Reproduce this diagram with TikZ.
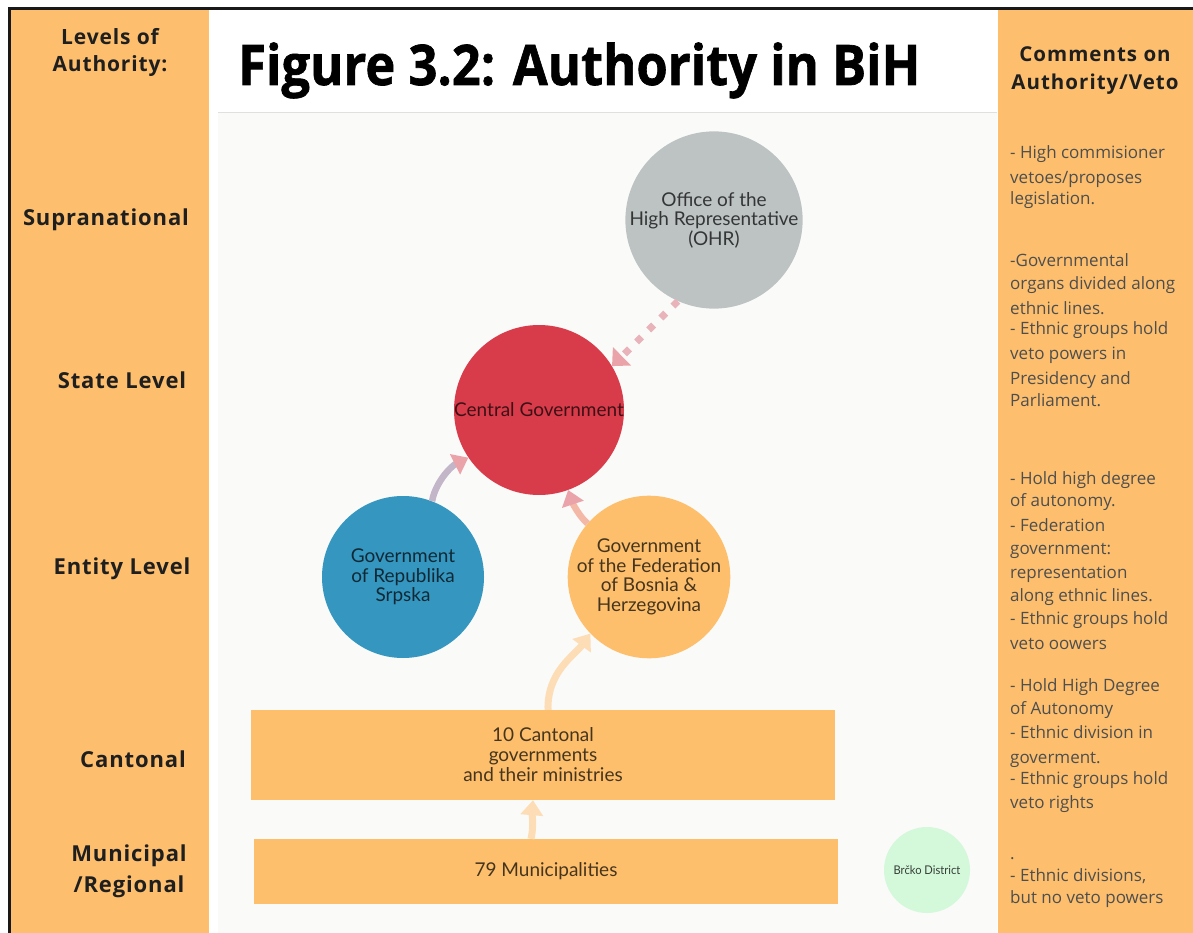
\documentclass[tikz,border=0pt]{standalone}
\usepackage{fontspec}
\setmainfont{Open Sans}
\newfontfamily\diagfont{Lato}
\usetikzlibrary{arrows.meta,shapes.geometric}

\definecolor{band}{HTML}{FDBF6D}
\definecolor{panelbg}{HTML}{FAFAF9}
\definecolor{ohrgray}{HTML}{BDC3C3}
\definecolor{centralred}{HTML}{D83C4A}
\definecolor{srpskablue}{HTML}{3596C0}
\definecolor{fedorange}{HTML}{FDBF6C}
\definecolor{brckogreen}{HTML}{D4F8DA}
\definecolor{arrowpink}{HTML}{EBA3AA}
\definecolor{dotpink}{HTML}{E8B3B9}
\definecolor{arrowmauve}{HTML}{C3B6C8}
\definecolor{arrowpeach}{HTML}{F3B8A6}
\definecolor{arrowlight}{HTML}{FDDDB6}
\definecolor{commentgray}{HTML}{4E4E4E}

\tikzset{
  lvl/.style={font=\fontsize{22}{31}\selectfont\bfseries\addfontfeature{LetterSpace=4},
    text=black!88, align=center, inner sep=0pt},
  cmthead/.style={font=\fontsize{20.5}{28}\selectfont\bfseries\addfontfeature{LetterSpace=5},
    text=black!88, align=center, inner sep=0pt},
  cmt/.style={font=\fontsize{17}{20}\selectfont, text=commentgray, anchor=mid west, inner sep=0pt},
  orgcircle/.style={circle, inner sep=0pt, align=center, text=black, text opacity=0.72,
    font=\diagfont\fontsize{19}{19.5}\selectfont},
  orgbox/.style={rectangle, inner sep=0pt, align=center, fill=fedorange, text=black, text opacity=0.72,
    font=\diagfont\fontsize{19}{20}\selectfont},
  linkarrow/.style={line width=6.5pt, -{Triangle[length=15pt,width=22pt,color=#1]}},
  linkarrow/.default=arrowpink
}

\begin{document}
\begin{tikzpicture}[x=1pt,y=-1pt]
\useasboundingbox (0,0) rectangle (1193,933);
\fill[white] (0,0) rectangle (1193,933);

% column bands, title strip and drawing panel
\fill[band] (10,10) rectangle (209,933);
\fill[white] (209,10) rectangle (997,933);
\fill[panelbg] (218,113) rectangle (997,933);
\draw[black!12, line width=1pt] (218,113) -- (997,113);
\fill[band] (998,10) rectangle (1193,933);
\draw[white, line width=1.5pt] (997.5,10) -- (997.5,933);

% outer frame
\draw[black!90, line width=3pt] (9,933) -- (9,9) -- (1193,9);

% title
\node[anchor=base west, inner sep=0pt,
  font=\fontsize{56}{60}\selectfont\bfseries\addfontfeature{FakeBold=1.2}] (title) at (238,85)
  {\scalebox{0.905}[1]{Figure 3.2: Authority in BiH}};

% level labels
\node[lvl, font=\fontsize{21}{27}\selectfont\bfseries\addfontfeature{LetterSpace=4}] (lvlhead) at (110,52)
  {Levels of\\Authority:};
\node[lvl] (supra) at (106,220) {Supranational};
\node[lvl] (state) at (122,380) {State Level};
\node[lvl] (entity) at (122,569) {Entity Level};
\node[lvl] (canton) at (133,759) {Cantonal};
\node[lvl] (munic) at (129,871) {Municipal\\/Regional};

% comments column
\node[cmthead] (cmthead) at (1095,71) {Comments on\\Authority/Veto};
\foreach \yy/\tx [count=\i] in {
  152/{- High commisioner}, 177/{vetoes/proposes}, 198/{legislation.},
  260/{-Governmental}, 283/{organs divided along}, 308/{ethnic lines.},
  328/{- Ethnic groups hold}, 353/{veto powers in}, 378/{Presidency and}, 400/{Parliament.},
  478/{- Hold high degree}, 500/{of autonomy.}, 525/{- Federation}, 548/{government:},
  572/{representation}, 595/{along ethnic lines.}, 618/{- Ethnic groups hold}, 643/{veto oowers},
  685/{- Hold High Degree}, 708/{of Autonomy}, 732/{- Ethnic division in}, 757/{goverment.},
  778/{- Ethnic groups hold}, 802/{veto rights},
  853/{.}, 875/{- Ethnic divisions,}, 897/{but no veto powers}}
  \node[cmt] (cmt\i) at (1010,\yy+3.5) {\tx};

% organisations
\node[orgcircle, fill=ohrgray, minimum size=162pt] (ohr) at (714,220)
  {Office of the\\High Representative\\(OHR)};
\node[orgcircle, fill=centralred, minimum size=170pt] (central) at (539,410)
  {Central Government};
\node[orgcircle, fill=srpskablue, minimum size=162pt] (srpska) at (403,577)
  {Government\\of Republika\\Srpska};
\node[orgcircle, fill=fedorange, minimum size=162pt] (fed) at (649,577)
  {Government\\of the Federation\\of Bosnia \&\\Herzegovina};
\node[orgbox, minimum width=584pt, minimum height=90pt] (cant) at (543,755)
  {10 Cantonal\\governments\\and their ministries};
\node[orgbox, minimum width=584pt, minimum height=65pt] (muni) at (546,871.5)
  {79 Municipalities};
\node[circle, fill=brckogreen, minimum size=86pt, inner sep=0pt, text=black, text opacity=0.75,
  font=\diagfont\fontsize{12}{14}\selectfont] (brcko) at (927,870)
  {\scalebox{0.93}[1]{Brčko District}};

% links between levels
\draw[line width=7pt, dotpink, dash pattern=on 7pt off 10pt,
  -{Triangle[length=14pt,width=25pt,color=arrowpink]}]
  (ohr.246) -- (central.31);
\draw[linkarrow, arrowmauve] (srpska.69) .. controls +(3,-18) and +(-18,9) .. (central.214);
\draw[linkarrow, arrowpeach] (fed.139) .. controls +(-9,-8) and +(4,12) .. (central.290);
\draw[linkarrow=arrowlight, arrowlight, line width=7pt]
  ([xshift=5pt]cant.north) .. controls +(-1,-38) and +(-16,22) .. (fed.224);
\draw[linkarrow=arrowlight, arrowlight, line width=7pt]
  ([xshift=-15pt]muni.north) .. controls +(3,-12) and +(-1,12) .. ([xshift=-10pt]cant.south);
\end{tikzpicture}
\end{document}
